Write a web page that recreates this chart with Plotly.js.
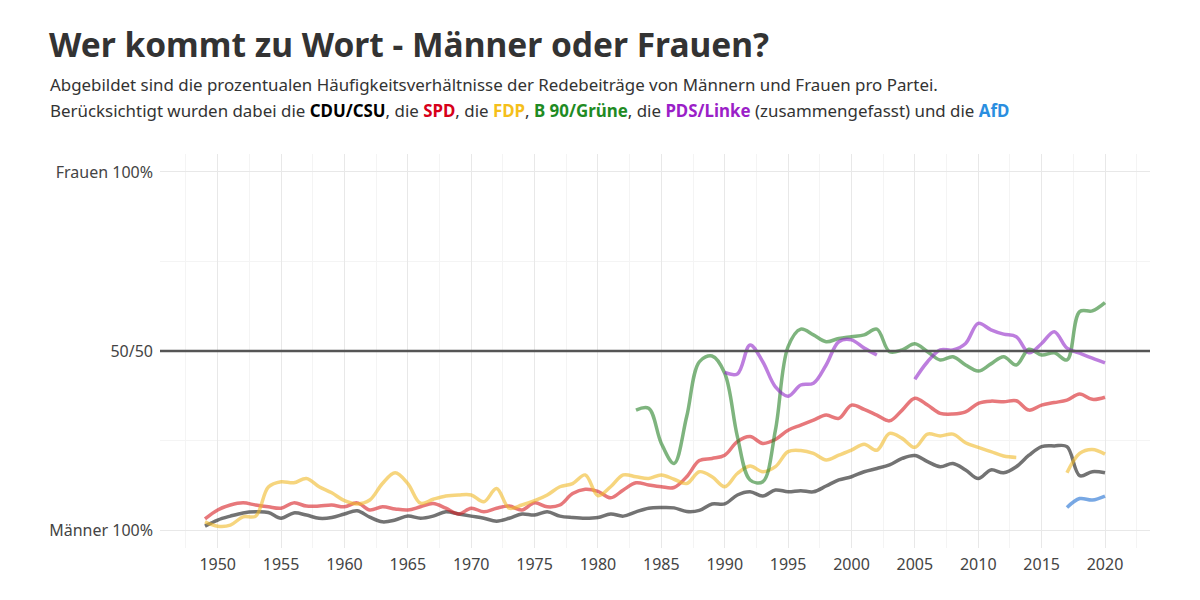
<!DOCTYPE html>
<html>
<head>
<meta charset="utf-8">
<script src="https://cdn.plot.ly/plotly-3.0.1.min.js"></script>
<style>
  html, body { margin: 0; padding: 0; background: #fff; }
  #chart { width: 1200px; height: 600px; }
</style>
</head>
<body>
<div id="chart"></div>
<script>
// Jahre der Legislaturen (ein Wert pro Jahr)
var years = [1949, 1950, 1951, 1952, 1953, 1954, 1955, 1956, 1957, 1958,
  1959, 1960, 1961, 1962, 1963, 1964, 1965, 1966, 1967, 1968,
  1969, 1970, 1971, 1972, 1973, 1974, 1975, 1976, 1977, 1978,
  1979, 1980, 1981, 1982, 1983, 1984, 1985, 1986, 1987, 1988,
  1989, 1990, 1991, 1992, 1993, 1994, 1995, 1996, 1997, 1998,
  1999, 2000, 2001, 2002, 2003, 2004, 2005, 2006, 2007, 2008,
  2009, 2010, 2011, 2012, 2013, 2014, 2015, 2016, 2017, 2018,
  2019, 2020];

// Anteil Frauen (0 = Männer 100%, 1 = Frauen 100%)
var cdu = [0.011, 0.028, 0.039, 0.048, 0.051, 0.049, 0.033, 0.048, 0.042, 0.033,
  0.035, 0.045, 0.054, 0.036, 0.023, 0.028, 0.039, 0.033, 0.039, 0.051,
  0.045, 0.039, 0.033, 0.025, 0.033, 0.045, 0.042, 0.051, 0.039, 0.035,
  0.033, 0.035, 0.045, 0.039, 0.051, 0.061, 0.063, 0.062, 0.052, 0.055,
  0.073, 0.073, 0.098, 0.107, 0.095, 0.112, 0.107, 0.110, 0.107, 0.123,
  0.140, 0.149, 0.163, 0.172, 0.182, 0.200, 0.208, 0.191, 0.177, 0.186,
  0.168, 0.144, 0.168, 0.160, 0.177, 0.209, 0.233, 0.235, 0.233, 0.152,
  0.163, 0.160];

var spd = [0.031, 0.056, 0.070, 0.076, 0.070, 0.065, 0.061, 0.076, 0.067, 0.067,
  0.070, 0.065, 0.076, 0.056, 0.065, 0.059, 0.056, 0.065, 0.074, 0.061,
  0.045, 0.061, 0.051, 0.061, 0.067, 0.056, 0.076, 0.065, 0.070, 0.102,
  0.114, 0.108, 0.090, 0.112, 0.132, 0.126, 0.121, 0.119, 0.149, 0.194,
  0.200, 0.209, 0.247, 0.261, 0.242, 0.253, 0.279, 0.293, 0.307, 0.321,
  0.312, 0.349, 0.337, 0.321, 0.305, 0.335, 0.368, 0.349, 0.326, 0.324,
  0.330, 0.354, 0.360, 0.358, 0.361, 0.335, 0.349, 0.356, 0.363, 0.380,
  0.365, 0.371];

var fdp = [0.023, 0.011, 0.014, 0.037, 0.039, 0.120, 0.135, 0.132, 0.144, 0.121,
  0.104, 0.082, 0.073, 0.084, 0.130, 0.160, 0.130, 0.075, 0.086, 0.095,
  0.098, 0.098, 0.079, 0.116, 0.061, 0.070, 0.082, 0.098, 0.121, 0.130,
  0.154, 0.096, 0.121, 0.154, 0.149, 0.144, 0.154, 0.142, 0.130, 0.163,
  0.149, 0.121, 0.158, 0.179, 0.163, 0.177, 0.219, 0.222, 0.214, 0.196,
  0.209, 0.223, 0.240, 0.223, 0.270, 0.256, 0.231, 0.268, 0.263, 0.268,
  0.244, 0.231, 0.219, 0.207, 0.203, null, null, null, 0.160, 0.214,
  0.225, 0.212];

var gruene = [null, null, null, null, null, null, null, null, null, null,
  null, null, null, null, null, null, null, null, null, null,
  null, null, null, null, null, null, null, null, null, null,
  null, null, null, null, 0.335, 0.340, 0.242, 0.186, 0.317, 0.470,
  0.486, 0.438, 0.261, 0.140, 0.135, 0.279, 0.512, 0.561, 0.545, 0.526,
  0.535, 0.540, 0.545, 0.561, 0.498, 0.503, 0.520, 0.498, 0.475, 0.484,
  0.461, 0.444, 0.464, 0.484, 0.461, 0.505, 0.489, 0.495, 0.475, 0.610,
  0.612, 0.635];

var linke = [null, null, null, null, null, null, null, null, null, null,
  null, null, null, null, null, null, null, null, null, null,
  null, null, null, null, null, null, null, null, null, null,
  null, null, null, null, null, null, null, null, null, null,
  null, 0.440, 0.436, 0.517, 0.470, 0.400, 0.374, 0.405, 0.410, 0.461,
  0.526, 0.531, 0.508, 0.489, null, null, 0.421, 0.470, 0.503, 0.503,
  0.521, 0.577, 0.559, 0.547, 0.540, 0.495, 0.521, 0.554, 0.508, 0.494,
  0.480, 0.467];

var afd = [null, null, null, null, null, null, null, null, null, null,
  null, null, null, null, null, null, null, null, null, null,
  null, null, null, null, null, null, null, null, null, null,
  null, null, null, null, null, null, null, null, null, null,
  null, null, null, null, null, null, null, null, null, null,
  null, null, null, null, null, null, null, null, null, null,
  null, null, null, null, null, null, null, null, 0.063, 0.088,
  0.084, 0.095];

var parties = ['CDU/CSU', 'SPD', 'FDP', 'B 90/Grüne', 'PDS/Linke', 'AfD'];
var series = [cdu, spd, fdp, gruene, linke, afd];
var lineColors = ['rgba(40,40,40,0.65)', 'rgba(215,30,35,0.6)', 'rgba(240,185,40,0.6)',
  'rgba(40,130,40,0.6)', 'rgba(145,40,200,0.6)', 'rgba(30,110,210,0.6)'];

var yTickVals = [0, 0.5, 1];
var yTickText = ['Männer 100%', '50/50', 'Frauen 100%'];

var font = '"Noto Sans", "Open Sans", sans-serif';

var data = [];
for (var i = 0; i < parties.length; i++) {
  data.push({
    x: years,
    y: series[i],
    name: parties[i],
    type: 'scatter',
    mode: 'lines',
    connectgaps: false,
    line: {color: lineColors[i], width: 3.5, shape: 'spline', smoothing: 1},
    hoverinfo: 'skip'
  });
}

var sub2 = 'Berücksichtigt wurden dabei die <b><span style="color:#000">CDU/CSU</span></b>, die ' +
  '<b><span style="color:#d7001a">SPD</span></b>, die ' +
  '<b><span style="color:#f5bf1b">FDP</span></b>, ' +
  '<b><span style="color:#1f8b24">B 90/Grüne</span></b>, die ' +
  '<b><span style="color:#9b1fc8">PDS/Linke</span></b> (zusammengefasst) und die ' +
  '<b><span style="color:#2a8ee0">AfD</span></b>';

var layout = {
  width: 1200,
  height: 600,
  paper_bgcolor: '#fff',
  plot_bgcolor: '#fff',
  showlegend: false,
  margin: {l: 160, r: 50, t: 154, b: 52},
  font: {family: font, color: '#333'},
  title: {
    text: '<b>Wer kommt zu Wort - Männer oder Frauen?</b>',
    font: {family: font, size: 33.5, color: '#333'},
    xref: 'container', x: 49 / 1200, xanchor: 'left',
    yref: 'container', y: 1 - 45 / 600, yanchor: 'middle'
  },
  annotations: [
    {
      text: 'Abgebildet sind die prozentualen Häufigkeitsverhältnisse der Redebeiträge von Männern und Frauen pro Partei.',
      xref: 'paper', yref: 'paper', x: -112 / 990, y: 1 + 70 / 394,
      xanchor: 'left', yanchor: 'middle', showarrow: false,
      font: {family: font, size: 16.9, color: '#333'}
    },
    {
      text: sub2,
      xref: 'paper', yref: 'paper', x: -112 / 990, y: 1 + 43 / 394,
      xanchor: 'left', yanchor: 'middle', showarrow: false,
      font: {family: font, size: 16.9, color: '#333'}
    }
  ],
  shapes: [{
    type: 'line', xref: 'paper', yref: 'y',
    x0: 0, x1: 1, y0: 0.5, y1: 0.5,
    line: {color: '#555', width: 2.5}
  }],
  xaxis: {
    range: [1945.45, 2023.55],
    tickmode: 'linear', tick0: 1950, dtick: 5,
    showgrid: true, gridcolor: '#e8e8e8', gridwidth: 1,
    minor: {tickmode: 'linear', tick0: 1947.5, dtick: 5, showgrid: true, gridcolor: '#f4f4f4', gridwidth: 1},
    zeroline: false, showline: false, ticks: '',
    ticklabelstandoff: 5,
    tickfont: {family: font, size: 16, color: '#444'}
  },
  yaxis: {
    range: [-0.05, 1.05],
    tickmode: 'array', tickvals: yTickVals, ticktext: yTickText,
    showgrid: true, gridcolor: '#e8e8e8', gridwidth: 1,
    minor: {tickmode: 'array', tickvals: [0.25, 0.75], showgrid: true, gridcolor: '#f4f4f4', gridwidth: 1},
    zeroline: false, showline: false, ticks: '',
    ticklabelstandoff: 6,
    tickfont: {family: font, size: 16, color: '#444'}
  }
};

Plotly.newPlot('chart', data, layout, {displayModeBar: false, staticPlot: true});
</script>
</body>
</html>
